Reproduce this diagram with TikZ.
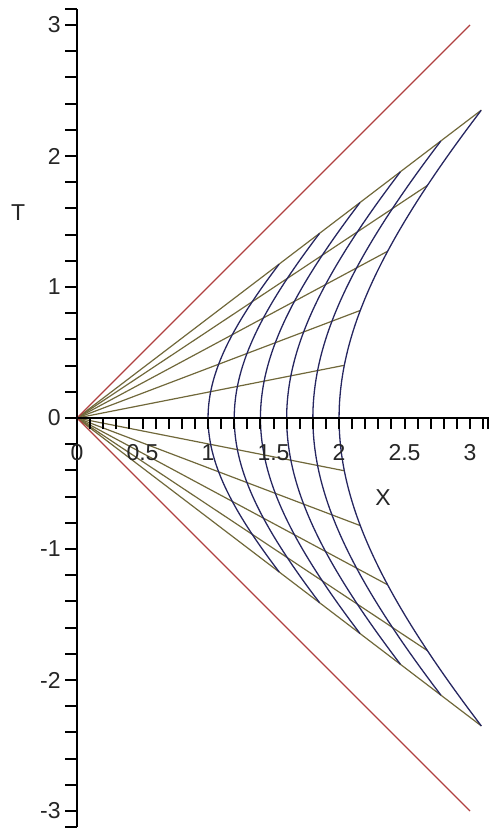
\documentclass[tikz,border=0pt]{standalone}
\usepackage{fontspec}
\setmainfont{Liberation Sans}
\definecolor{bluec}{RGB}{38,38,96}
\definecolor{yelc}{RGB}{112,104,58}
\definecolor{redc}{RGB}{176,64,64}
\begin{document}
\begin{tikzpicture}[x=65.5pt,y=65.5pt,
  hyp/.style={draw=bluec,line width=0.65pt},
  ray/.style={draw=yelc,line width=0.6pt},
  cone/.style={draw=redc,line width=0.6pt},
  axisline/.style={draw=black,line width=1pt},
  tickline/.style={draw=black,line width=1pt},
  ticklab/.style={font=\fontsize{11.5}{13}\selectfont,text=black!85,inner sep=0pt}]
\useasboundingbox (-0.588,-3.137) rectangle (3.145,3.191);
% rays of constant rapidity
\foreach \e in {0.2,0.4,0.6,0.8,1,-0.2,-0.4,-0.6,-0.8,-1}
  \draw[ray] (0,0) -- ({2*(exp(\e)+exp(-\e))/2},{2*(exp(\e)-exp(-\e))/2});
% hyperbolas of constant X
\foreach \X in {1,1.2,1.4,1.6,1.8,2}
  \draw[hyp] plot[domain=-1:1,samples=61,variable=\e,smooth]
    ({\X*(exp(\e)+exp(-\e))/2},{\X*(exp(\e)-exp(-\e))/2});
% light cone
\coordinate (O) at (0,0);
\coordinate (cu) at (3,3);
\coordinate (cd) at (3,-3);
\draw[cone] (O) -- (cu);
\draw[cone] (O) -- (cd);
% axes
\draw[axisline] (0,0) -- (3.14,0);
\draw[axisline] (0,-3.125) -- (0,3.125);
\foreach \i in {1,...,31}
  \draw[tickline] ({\i*0.1},0.005) -- ({\i*0.1},-0.085);
\draw[tickline] (3.14,0.005) -- (3.14,-0.085);
\foreach \i in {-15,...,15}
  \draw[tickline] (0,{\i*0.2}) -- (-0.092,{\i*0.2});
\draw[tickline] (0,3.12) -- (-0.092,3.12);
\draw[tickline] (0,-3.12) -- (-0.092,-3.12);
% x tick labels
\foreach \v/\t in {0/0,0.5/0.5,1/1,1.5/1.5,2/2,2.5/2.5,3/3}
  \node[ticklab] (xl\t) at (\v,-0.265) {\t};
% y tick labels
\foreach \v/\t in {3/3,2/2,1/1,0/0,-1/-1,-2/-2,-3/-3}
  \node[ticklab,anchor=east] (yl\v) at (-0.122,\v) {\t};
\node[ticklab] (xname) at (2.336,-0.61) {X};
\node[ticklab] (tname) at (-0.45,1.565) {T};
\end{tikzpicture}
\end{document}
